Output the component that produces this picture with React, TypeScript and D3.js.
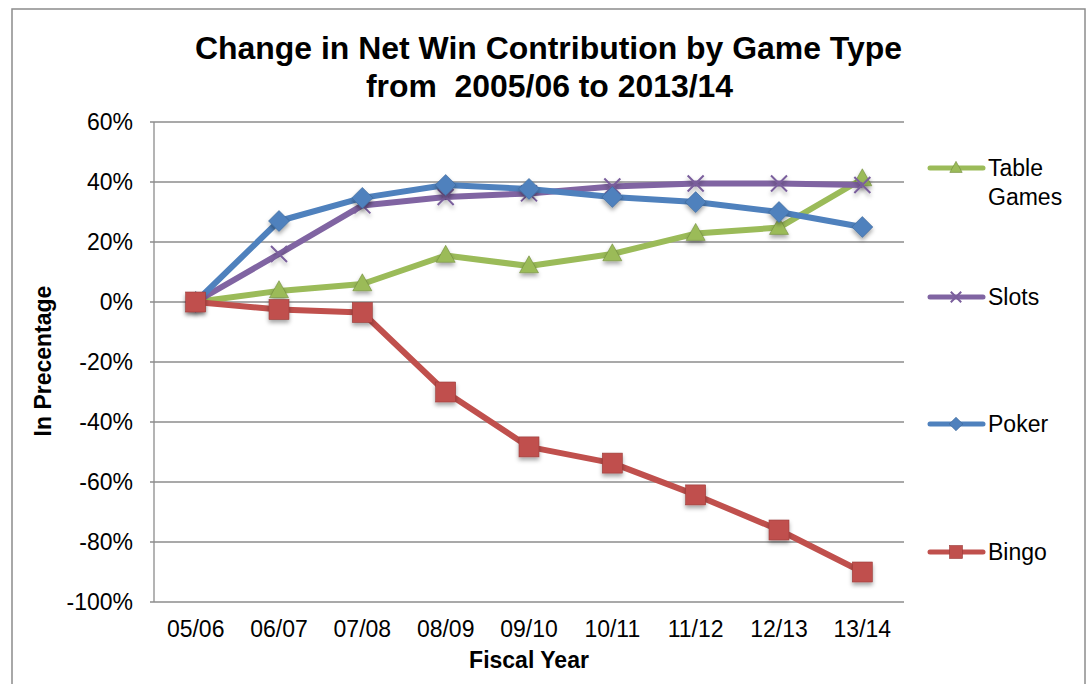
import React from "react";
import * as d3 from "d3";

const categories = ["05/06", "06/07", "07/08", "08/09", "09/10", "10/11", "11/12", "12/13", "13/14"];
const tableGames = [0, 3.7, 6, 15.5, 12, 16, 22.8, 24.8, 41];
const slots = [0, 16, 32.2, 35, 36.2, 38.5, 39.5, 39.5, 39];
const poker = [0, 27, 34.7, 39, 37.7, 35, 33.3, 30, 25];
const bingo = [0, -2.5, -3.5, -30, -48.3, -53.7, -64.3, -76, -90];
const yTicks = [60, 40, 20, 0, -20, -40, -60, -80, -100];

const series = [
  { name: "Table Games", values: tableGames, color: "#9BBB59", marker: "triangle" },
  { name: "Slots", values: slots, color: "#8064A2", marker: "x" },
  { name: "Poker", values: poker, color: "#4F81BD", marker: "diamond" },
  { name: "Bingo", values: bingo, color: "#C0504D", marker: "square" },
];

const W = 1092, H = 684;
const plot = { left: 154, right: 904, top: 122, bottom: 602 };

function Marker({ type, x, y, color, size = 1 }: { type: string; x: number; y: number; color: string; size?: number }) {
  if (type === "triangle") {
    const h = 17 * size, w = 19 * size;
    return (
      <path d={`M${x},${y - h * 0.6}L${x + w / 2},${y + h * 0.4}L${x - w / 2},${y + h * 0.4}Z`} fill={color} stroke="#6f8a3a" strokeWidth={0.6} />
    );
  }
  if (type === "diamond") {
    const s = 10.5 * size;
    return <path d={`M${x},${y - s}L${x + s},${y}L${x},${y + s}L${x - s},${y}Z`} fill={color} stroke="#3a6496" strokeWidth={0.6} />;
  }
  if (type === "square") {
    const s = 10 * size;
    return <rect x={x - s} y={y - s} width={2 * s} height={2 * s} fill={color} stroke="#9a3a38" strokeWidth={0.6} />;
  }
  const s = 8 * size;
  return (
    <path d={`M${x - s},${y - s}L${x + s},${y + s}M${x - s},${y + s}L${x + s},${y - s}`} stroke="#7a5e9c" strokeWidth={2} fill="none" />
  );
}

export default function App() {
  const x = d3.scalePoint<string>().domain(categories).range([plot.left, plot.right]).padding(0.5);
  const y = d3.scaleLinear().domain([-100, 60]).range([plot.bottom, plot.top]);
  const line = d3.line<number>().x((_, i) => x(categories[i])!).y((d) => y(d));
  const legendY = [168, 297, 424, 552];
  const font = "Arial, 'Liberation Sans', sans-serif";

  return (
    <svg width={W} height={H} style={{ position: "absolute", left: 0, top: 0 }} fontFamily={font}>
      <defs>
        <filter id="sh" x="-50%" y="-50%" width="200%" height="200%">
          <feDropShadow dx="0" dy="3" stdDeviation="2" floodColor="#000" floodOpacity="0.35" />
        </filter>
      </defs>
      <rect x={0} y={0} width={W} height={H} fill="#fff" />
      <rect x={12} y={9} width={1073} height={690} fill="#fff" stroke="#8c8c8c" strokeWidth={1.5} />
      <text x={195} y={59} fontSize={31} fontWeight="bold" textLength={707} lengthAdjust="spacingAndGlyphs">Change in Net Win Contribution by Game Type</text>
      <text x={366} y={97} fontSize={31} fontWeight="bold" textLength={367} lengthAdjust="spacingAndGlyphs" style={{ whiteSpace: "pre" }}>from  2005/06 to 2013/14</text>

      {yTicks.map((t) => (
        <g key={t}>
          <line x1={plot.left - 4} x2={plot.right} y1={y(t)} y2={y(t)} stroke="#8c8c8c" strokeWidth={1.3} />
          <text x={133} y={y(t) + 8} textAnchor="end" fontSize={23}>{`${t}%`}</text>
        </g>
      ))}
      <line x1={plot.left} x2={plot.left} y1={plot.top} y2={plot.bottom} stroke="#8c8c8c" strokeWidth={1.3} />
      {categories.map((c) => (
        <text key={c} x={x(c)!} y={637} textAnchor="middle" fontSize={23}>{c}</text>
      ))}
      <text x={529} y={668} textAnchor="middle" fontSize={23} fontWeight="bold">Fiscal Year</text>
      <text transform={`translate(51,361) rotate(-90)`} textAnchor="middle" fontSize={23} fontWeight="bold">In Precentage</text>

      {series.map((s) => (
        <g key={s.name}>
          <path d={line(s.values)!} fill="none" stroke={s.color} strokeWidth={6} strokeLinejoin="round" />
          <g filter="url(#sh)">
            {s.values.map((v, i) => (
              <Marker key={i} type={s.marker} x={x(categories[i])!} y={y(v)} color={s.color} />
            ))}
          </g>
        </g>
      ))}

      {series.map((s, i) => (
        <g key={s.name}>
          <line x1={930} x2={983} y1={legendY[i]} y2={legendY[i]} stroke={s.color} strokeWidth={5} strokeLinecap="round" />
          <Marker type={s.marker} x={956} y={legendY[i]} color={s.color} size={0.65} />
          {s.name === "Table Games" ? (
            <text x={988} y={legendY[i] + 8} fontSize={23}>
              <tspan x={988}>Table</tspan>
              <tspan x={988} dy={29}>Games</tspan>
            </text>
          ) : (
            <text x={988} y={legendY[i] + 8} fontSize={23}>{s.name}</text>
          )}
        </g>
      ))}
    </svg>
  );
}
